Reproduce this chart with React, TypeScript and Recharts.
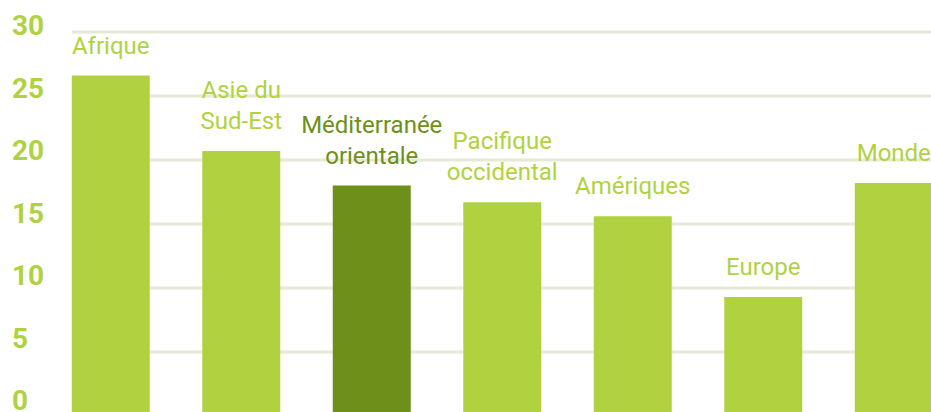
import React from 'react';
import { BarChart, Bar, XAxis, YAxis, CartesianGrid, Cell, LabelList } from 'recharts';

const regions = [
  'Afrique',
  'Asie du\nSud-Est',
  'Méditerranée\norientale',
  'Pacifique\noccidental',
  'Amériques',
  'Europe',
  'Monde',
];
const values = [26.6, 20.7, 18.0, 16.7, 15.6, 9.3, 18.2];
const yTicks = [0, 5, 10, 15, 20, 25, 30];
const highlighted = 'Méditerranée\norientale';

const LIGHT = '#b0d241';
const DARK = '#6e901a';
const GRID = '#e6e9d6';
const FONT = 'Roboto, sans-serif';

const data = regions.map((region, i) => ({ region, value: values[i] }));

const YTick = ({ y, payload }: any) => {
  // tick labels sit above their gridlines, a little tighter than the grid
  const baseline = 35 + (y - 32) * (375 / 384);
  return (
    <text x={12} y={baseline} fill={LIGHT} fontSize={28} fontWeight={700} fontFamily={FONT}>
      {payload.value}
    </text>
  );
};

const BarLabel = ({ x, y, width, value }: any) => {
  const lines = String(value).split('\n');
  const color = value === highlighted ? DARK : LIGHT;
  const cx = Number(x) + Number(width) / 2;
  const last = Number(y) - 22;
  return (
    <text textAnchor="middle" fill={color} fontSize={24} fontFamily={FONT}>
      {lines.map((line, i) => (
        <tspan key={i} x={cx} y={last - (lines.length - 1 - i) * 31}>
          {line}
        </tspan>
      ))}
    </text>
  );
};

export default function App() {
  return (
    <div
      style={{
        position: 'absolute',
        left: 0,
        top: 0,
        width: 931,
        height: 412,
        overflow: 'hidden',
        background: '#fff',
      }}
    >
      <BarChart
        width={931}
        height={416}
        data={data}
        margin={{ top: 32, right: 0, bottom: 0, left: 0 }}
      >
        <CartesianGrid vertical={false} stroke={GRID} strokeWidth={3} />
        <XAxis dataKey="region" hide padding={{ left: -26.25, right: -28.25 }} />
        <YAxis
          width={72}
          domain={[0, 30]}
          ticks={yTicks}
          interval={0}
          axisLine={false}
          tickLine={false}
          tick={<YTick />}
        />
        <Bar dataKey="value" barSize={78} isAnimationActive={false}>
          {data.map((d, i) => (
            <Cell key={i} fill={d.region === highlighted ? DARK : LIGHT} />
          ))}
          <LabelList dataKey="region" content={<BarLabel />} />
        </Bar>
      </BarChart>
    </div>
  );
}
